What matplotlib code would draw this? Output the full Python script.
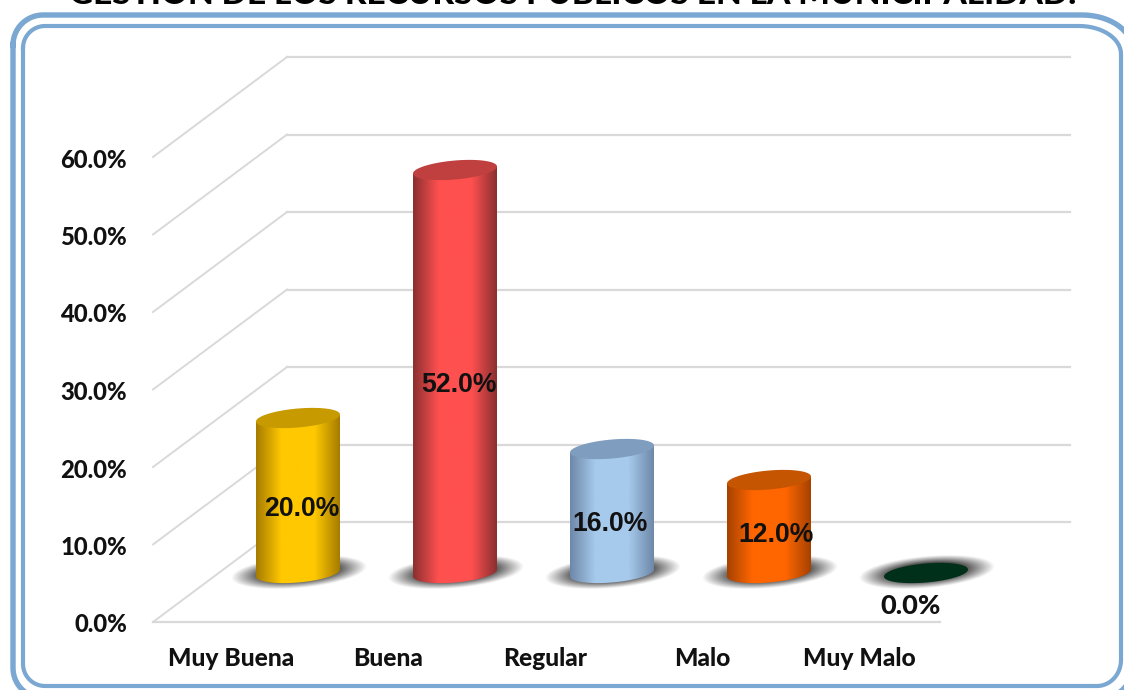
import numpy as np
import matplotlib
matplotlib.use('Agg')
import matplotlib.pyplot as plt
from matplotlib.colors import LinearSegmentedColormap
from matplotlib.patches import Polygon

categories = ['Muy Buena', 'Buena', 'Regular', 'Malo', 'Muy Malo']
values = [20.0, 52.0, 16.0, 12.0, 0.0]
yticks = [0, 10, 20, 30, 40, 50, 60]
title = 'GESTION DE LOS RECURSOS PUBLICOS EN LA MUNICIPALIDAD.'

centre_colors = ['#FFC800', '#FF5050', '#A6CAEC', '#FF6600', '#00B050']
edge_colors = ['#A67C00', '#8B3030', '#6E88A8', '#A64200', '#00301A']
top_colors = ['#C79A00', '#C04040', '#7F9DBF', '#C55500', '#00301A']

W, H = 1124, 690
# pixels per category and per percent point on the chart
px_x = 157.0
px_y = 7.75
x0_px, y0_px = 298.0, 622.0

depth_x = 134 / px_x      # front plane -> back wall
depth_y = 100 / px_y
floor_y = 49 / px_y       # where the cylinders stand
a = 42 / px_x
b = 9.5 / px_y
shear = (3.5 / px_y) / a

fig = plt.figure(figsize=(W / 100, H / 100), dpi=100)
ax = fig.add_axes([0, 0, 1, 1])
ax.axis('off')
xlim = (-x0_px / px_x, (W - x0_px) / px_x)
ylim = ((y0_px - H) / px_y, y0_px / px_y)


def ell(cx, cy, t, aa=a, bb=b):
    x = cx + aa * np.cos(t)
    y = cy + bb * np.sin(t) + shear * (x - cx)
    return x, y


def draw_shadow(cx, cy):
    sa, sb = 68 / px_x, 16 / px_y
    xs = np.linspace(cx - sa * 1.1, cx + sa * 1.1, 200)
    ys = np.linspace(cy - sb * 1.6, cy + sb * 1.6, 80)
    xx, yy = np.meshgrid(xs, ys)
    r = np.hypot((xx - cx) / sa, (yy - cy - shear * (xx - cx)) / sb)
    img = np.zeros(r.shape + (4,))
    img[..., :3] = 0.28
    img[..., 3] = np.clip((1 - r) / 0.45, 0, 1)
    ax.imshow(img, extent=(xs[0], xs[-1], ys[0], ys[-1]), origin='lower',
              aspect='auto', zorder=3, interpolation='bilinear')


def draw_cylinder(cx, val, centre, edge, top):
    base = floor_y
    head = floor_y + val
    draw_shadow(cx + 1 / px_x, base + 1 / px_y)
    if val > 0:
        t = np.linspace(np.pi, 2 * np.pi, 60)
        bx, by = ell(cx, base, t)
        tx, ty = ell(cx, head, np.array([0.0]))
        lx, ly = ell(cx, head, np.array([np.pi]))
        pts = np.column_stack([np.r_[bx, tx, lx], np.r_[by, ty, ly]])
        clip = Polygon(pts, closed=True, transform=ax.transData, fc='none', ec='none')
        ax.add_patch(clip)
        cmap = LinearSegmentedColormap.from_list(
            'cyl', [(0, edge), (0.3, centre), (0.7, centre), (1, edge)])
        grad = np.linspace(0, 1, 128).reshape(1, -1)
        im = ax.imshow(grad, cmap=cmap, extent=(cx - a, cx + a, base - b * 2, head + b),
                       aspect='auto', zorder=4, interpolation='bilinear')
        im.set_clip_path(clip)
    t = np.linspace(0, 2 * np.pi, 100)
    ex, ey = ell(cx, head, t)
    ax.fill(ex, ey, color=top, zorder=5, lw=0)


def arc(cx, cy, rx, ry, start):
    # quarter of an ellipse, angles measured with y pointing down
    t = np.radians(np.linspace(start, start + 90, 16))
    return np.column_stack([cx + rx * np.cos(t), cy + ry * np.sin(t)])


def draw_frame(x0, x1, y0, y1, rl, rtr, rbr, lw):
    # rounded frame in picture pixels, every corner its own radius
    pts = np.vstack([
        arc(x0 + rl, y0 + rl, rl, rl, 180),
        arc(x1 - rtr[0], y0 + rtr[1], rtr[0], rtr[1], 270),
        arc(x1 - rbr[0], y1 - rbr[1], rbr[0], rbr[1], 0),
        arc(x0 + rl, y1 - rl, rl, rl, 90),
    ])
    pts = np.vstack([pts, pts[:1]])
    fig.add_artist(plt.Line2D(pts[:, 0] / W, 1 - pts[:, 1] / H, color='#7BA7D3', lw=lw,
                              transform=fig.transFigure, solid_joinstyle='round'))


# walls, floor and gridlines
grid_color = '#D9D9D9'
left = -145 / px_x
right = (940 - x0_px) / px_x
back_right = (1070 - x0_px) / px_x
for v in yticks:
    ax.plot([left, left + depth_x], [v, v + depth_y], color=grid_color, lw=1.4, zorder=2)
    ax.plot([left + depth_x, back_right], [v + depth_y, v + depth_y],
            color=grid_color, lw=1.6, zorder=2)
    ax.text(left - 26 / px_x, v - 3 / px_y, '%.1f%%' % v, ha='right', va='center', family='Lato',
            weight='black', fontsize=17.2, color='#111111', zorder=6)
ax.plot([left, right], [0, 0], color=grid_color, lw=1.6, zorder=2)

label_dx = [4, 4, -2, 7, -15]
label_dy = [-13, -13, -13, -8, -33]
for i, (name, val) in enumerate(zip(categories, values)):
    draw_cylinder(i, val, centre_colors[i], edge_colors[i], top_colors[i])
    ax.text(i - 67 / px_x, -37 / px_y, name, ha='center', va='center', family='Lato',
            weight='black', fontsize=17.7, color='#111111', zorder=6)
    fam = 'Liberation Sans' if val > 0 else 'Lato'
    wgt = 'bold' if val > 0 else 'black'
    size = 19.2 if val > 0 else 19.5
    ax.text(i + label_dx[i] / px_x, floor_y + val / 2 + label_dy[i] / px_y,
            '%.1f%%' % val, ha='center', va='center', family=fam, weight=wgt,
            fontsize=size, color='#111111', zorder=7)

ax.set_xlim(*xlim)
ax.set_ylim(*ylim)

# double frame
draw_frame(13, 1132, 15, 698, 30, (50, 34), (30, 30), 3.9)
draw_frame(23, 1121, 26, 686, 22, (42, 28), (24, 26), 3.0)

fig.text(573 / W, 1 - 4 / H, title, ha='center', va='baseline', family='Lato',
         weight='black', fontsize=24.0, color='black')

fig.savefig('out.png', dpi=100)
